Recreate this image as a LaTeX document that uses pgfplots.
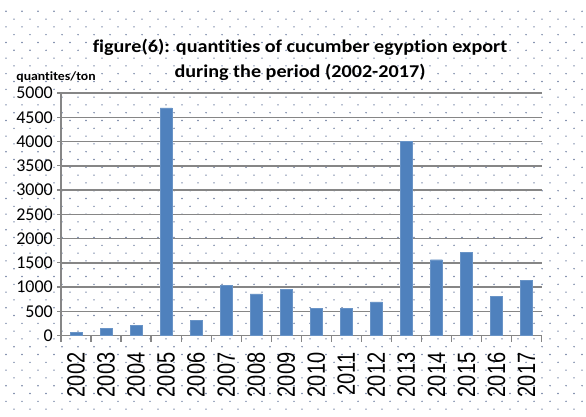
\documentclass[border=0pt]{standalone}
\usepackage{pgfplots}
\pgfplotsset{compat=1.18}
\usepackage{fontspec}
\usepackage{graphicx}
\setmainfont{Carlito}[Ligatures=NoCommon]
\newfontfamily\arialfont{Liberation Sans}

\definecolor{barblue}{RGB}{79,129,189}
\definecolor{gridgray}{RGB}{134,134,134}
\definecolor{dotblue}{RGB}{112,128,162}

\newcommand\xl[1]{\scalebox{1}[1.25]{#1}}

\begin{document}
\begin{tikzpicture}[x=1pt,y=1pt]
\path[use as bounding box, fill=white] (0,0) rectangle (586,416);

% dotted background
\foreach \j in {1,...,52} {
  \pgfmathsetmacro\yy{416-3.5-7.8*\j}
  \pgfmathsetmacro\off{14-8*mod(\j,2)}
  \foreach \i in {0,...,36} {
    \fill[dotblue] ({\off+16*\i},\yy) circle (0.8);
  }
}

\begin{axis}[
at={(61pt,80.5pt)}, anchor=south west,
scale only axis,
width=480.5pt, height=242.5pt,
xmin=-0.5, xmax=15.5,
ymin=0, ymax=5000,
ybar, bar width=12pt,
axis x line=bottom, axis y line=left,
axis line style={-, draw=gridgray, line width=1.6pt},
every outer x axis line/.append style={-},
every outer y axis line/.append style={-},
ymajorgrids,
y grid style={gridgray, line width=1.5pt},
ytick={0,500,...,5000},
xtick={0,...,15},
xticklabels={\xl{2002},\xl{2003},\xl{2004},\xl{2005},\xl{2006},\xl{2007},\xl{2008},\xl{2009},\xl{2010},\xl{2011},\xl{2012},\xl{2013},\xl{2014},\xl{2015},\xl{2016},\xl{2017}},
minor xtick={-0.5,0.5,...,15.5},
major x tick style={draw=none},
minor x tick style={draw=gridgray, line width=1.2pt},
y tick style={draw=gridgray, line width=1.2pt},
tick align=outside,
major tick length=4pt, minor tick length=6pt,
/pgf/number format/assume math mode=true,
/pgf/number format/set thousands separator={},
yticklabel style={font=\fontsize{18}{18}\selectfont, inner sep=0pt, inner xsep=4pt},
xticklabel style={rotate=90, anchor=east, font=\arialfont\fontsize{20}{20}\selectfont, inner sep=0pt, inner xsep=13pt},
]
\addplot[fill=barblue, draw=barblue!85!white] coordinates {
(0,68) (1,150) (2,212) (3,4693) (4,308) (5,1029) (6,856) (7,946)
(8,565) (9,565) (10,695) (11,4000) (12,1563) (13,1708) (14,805) (15,1143)
};
\end{axis}

\node[align=center, font=\bfseries\fontsize{18}{25}\selectfont] at (300,356.5)
  {\scalebox{1.12}[1]{figure(6): quantities of cucumber egyption export}\\
   \scalebox{1.12}[1]{during the period (2002-2017)}};
\node[font=\bfseries\fontsize{12.5}{12.5}\selectfont] at (56,339)
  {\scalebox{1.1}[1]{quantites/ton}};
\end{tikzpicture}
\end{document}
